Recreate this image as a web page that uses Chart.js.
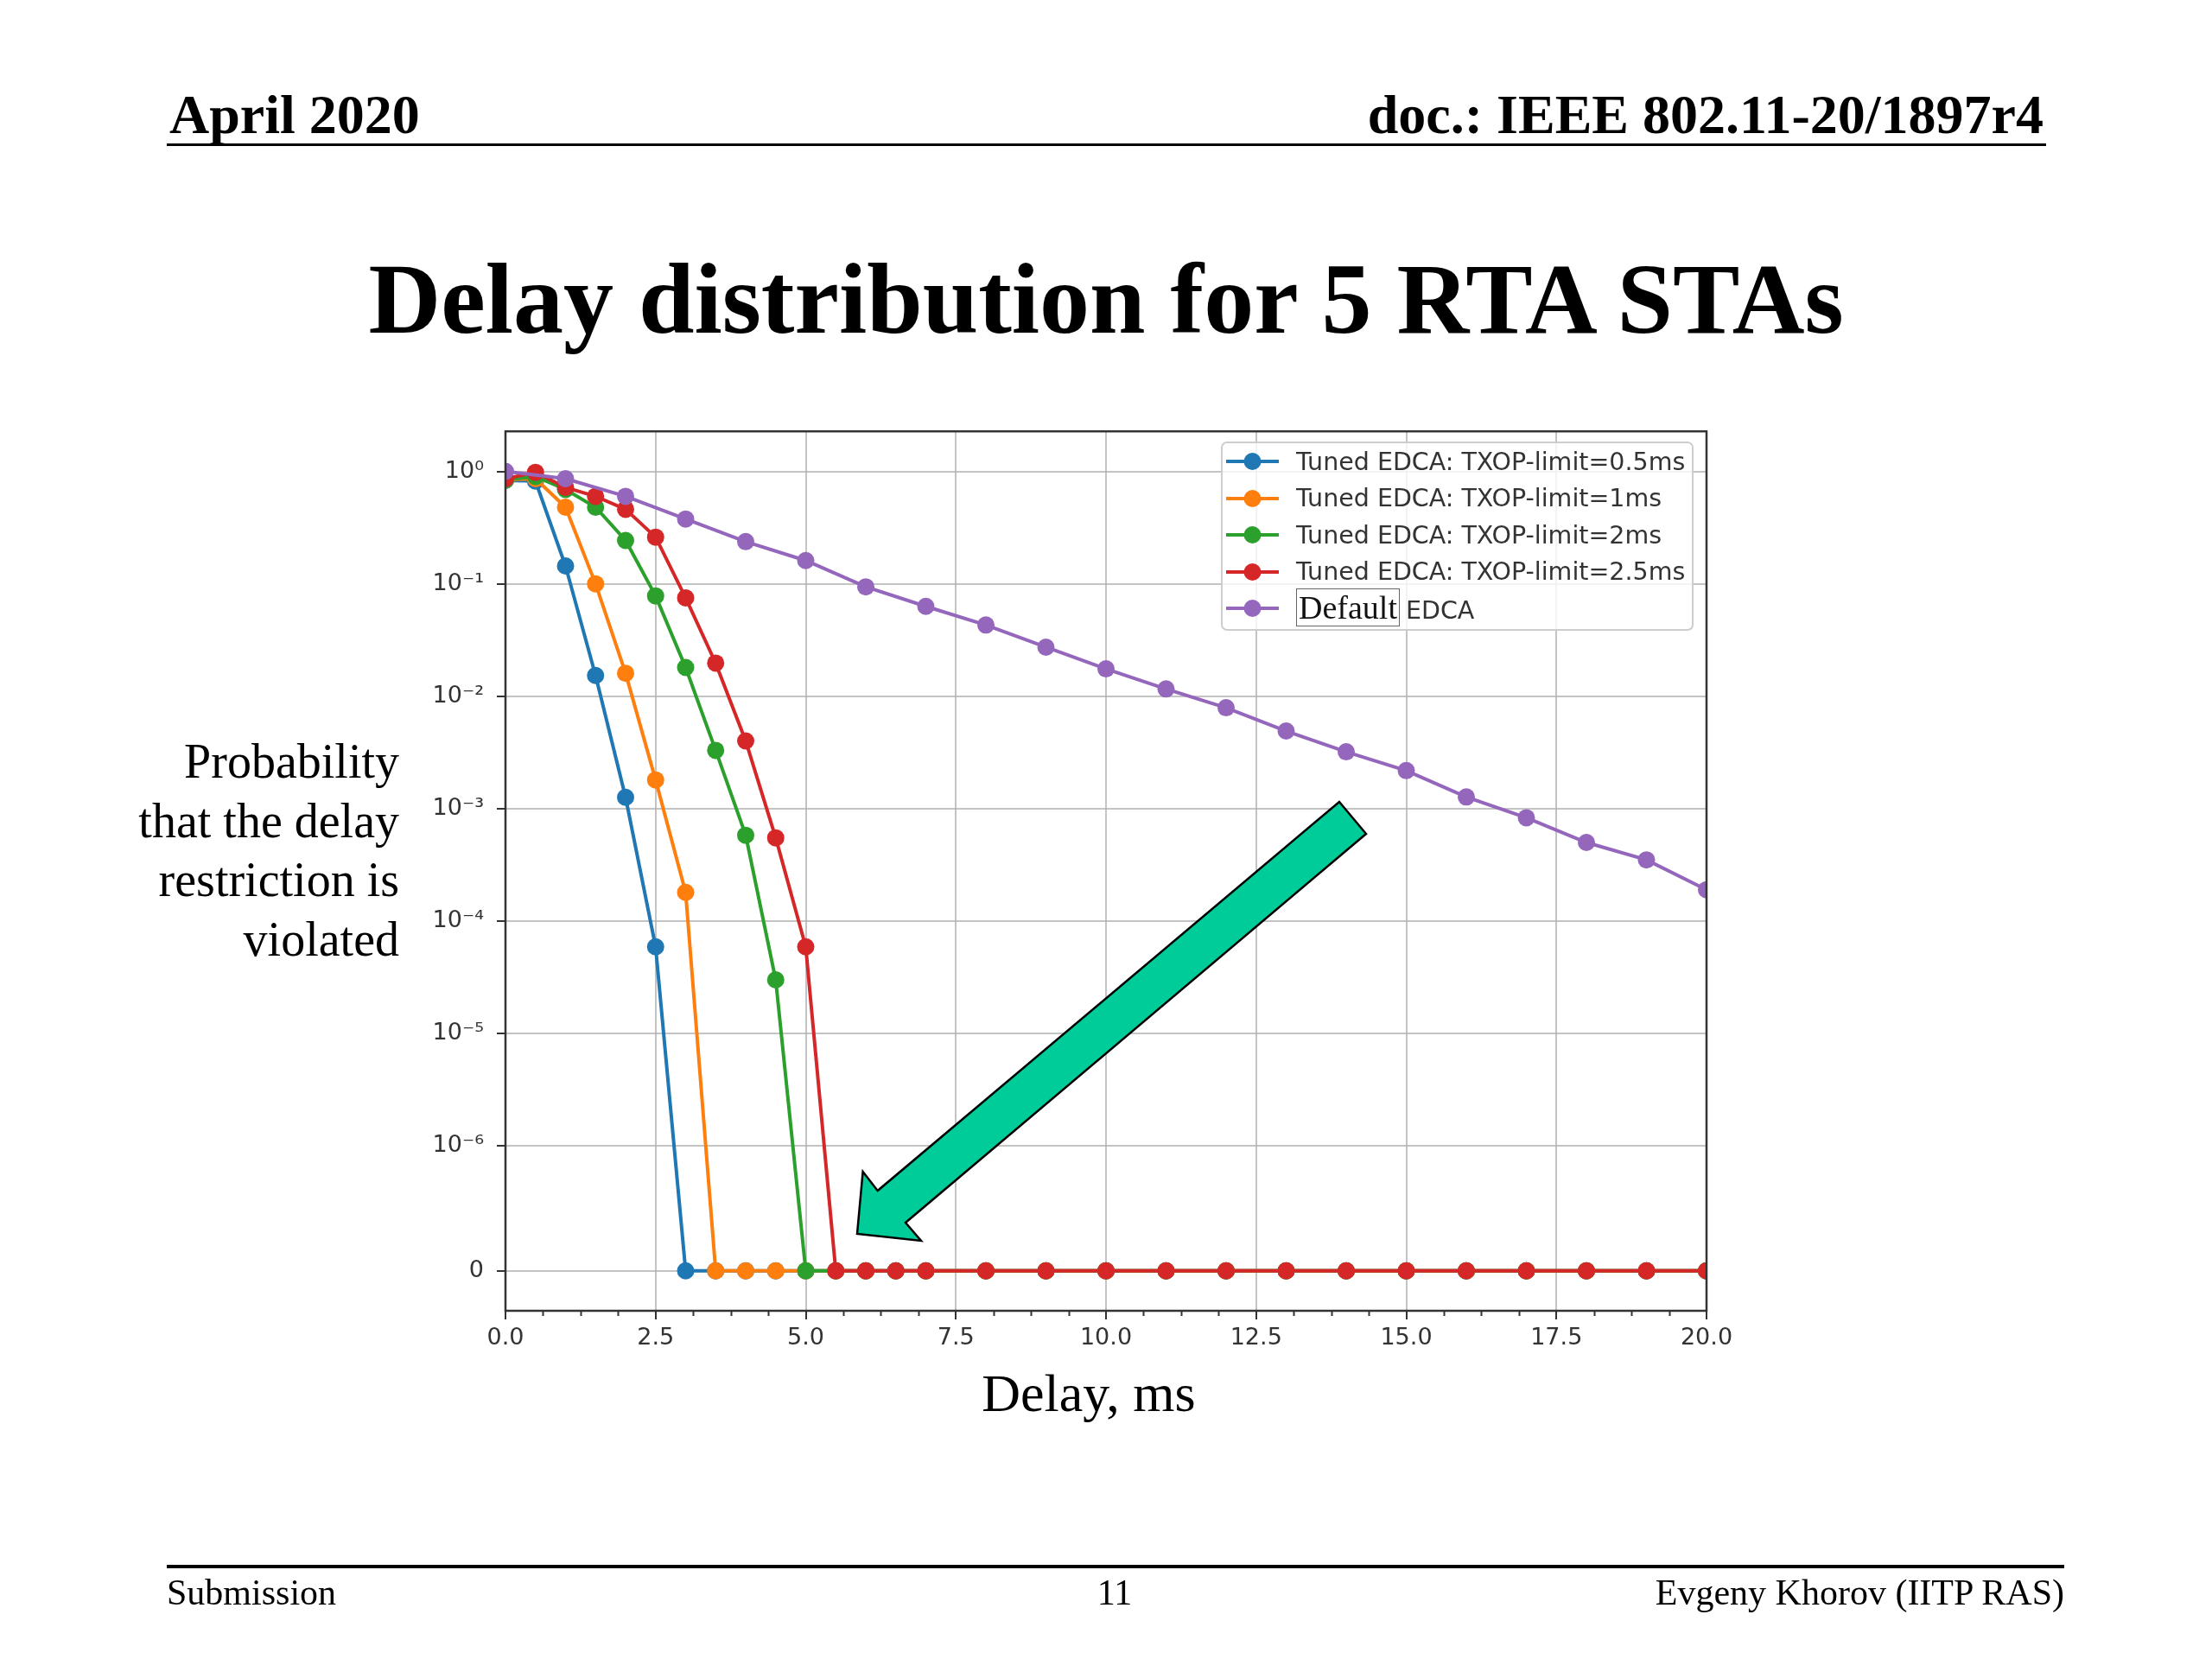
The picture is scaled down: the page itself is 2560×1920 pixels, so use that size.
<!DOCTYPE html>
<html>
<head>
<meta charset="utf-8">
<title>Delay distribution for 5 RTA STAs</title>
<script src="https://cdn.jsdelivr.net/npm/chart.js@4.4.0/dist/chart.umd.min.js"></script>
<style>
  html, body { margin: 0; padding: 0; background: #fff; }
  body {
    width: 2560px; height: 1920px; position: relative; overflow: hidden;
    font-family: "Liberation Serif", "Times New Roman", serif; color: #000;
  }
  .abs { position: absolute; white-space: nowrap; }
  .hdr { top: 101px; font-size: 64px; line-height: 64px; font-weight: bold; }
  .rule { position: absolute; background: #000; }
  .ftr { top: 1822px; font-size: 42px; line-height: 42px; }
  #title { left: 0; width: 2560px; text-align: center; top: 288px; font-size: 116px; line-height: 116px; font-weight: bold; }
  #ylabel { left: 0; width: 462px; text-align: right; top: 847px; font-size: 56px; line-height: 68.5px; white-space: normal; }
  #xlabel { left: 1060px; width: 400px; text-align: center; top: 1581px; font-size: 62px; line-height: 62px; }
  #chartBox { position: absolute; left: 470px; top: 468px; width: 1550px; height: 1109px; }
  #legend {
    position: absolute; left: 1413px; top: 511px; width: 547px; height: 219px;
    box-sizing: border-box; border: 2px solid rgba(200, 200, 200, 0.9); border-radius: 7px;
    background: rgba(255, 255, 255, 0.8); padding-left: 4px;
    font-family: "DejaVu Sans", sans-serif; font-size: 28.5px; color: #333;
  }
  .legendRow { height: 42.5px; display: flex; align-items: center; white-space: nowrap; }
  .legendRow svg { flex: none; margin-right: 20px; }
  .boxed {
    font-family: "Liberation Serif", serif; font-size: 38px; line-height: 35px; color: #111;
    border: 1.5px solid #666; padding: 0 2px; margin-right: 7px;
  }
  #arrow { position: absolute; left: 0; top: 0; }
</style>
</head>
<body>
<div class="abs hdr" style="left:196px">April 2020</div>
<div class="abs hdr" style="right:195px">doc.: IEEE 802.11-20/1897r4</div>
<div class="rule" style="left:193px; top:166px; width:2175px; height:3px"></div>

<div class="abs" id="title">Delay distribution for 5 RTA STAs</div>

<div class="abs" id="ylabel">Probability<br>that the delay<br>restriction is<br>violated</div>

<div id="chartBox"><canvas id="delayChart"></canvas></div>
<div id="legend"></div>

<svg id="arrow" width="2560" height="1920">
  <polygon points="1550,928 1581,965 1048,1415 1066,1436 992,1428 998.6,1356 1015.7,1378"
           fill="#00CC99" stroke="#000" stroke-width="2.5" stroke-linejoin="miter"/>
</svg>

<div class="abs" id="xlabel">Delay, ms</div>

<div class="rule" style="left:193px; top:1811px; width:2196px; height:4px"></div>
<div class="abs ftr" style="left:193px">Submission</div>
<div class="abs ftr" style="left:1190px; width:200px; text-align:center">11</div>
<div class="abs ftr" style="right:171px">Evgeny Khorov (IITP RAS)</div>

<script>
// delay points (ms) for the tuned runs and the default run
const tunedDelay = [0, 0.5, 1, 1.5, 2, 2.5, 3, 3.5, 4, 4.5, 5, 5.5, 6, 6.5, 7,
    8, 9, 10, 11, 12, 13, 14, 15, 16, 17, 18, 19, 20];
const defaultDelay = [0, 1, 2, 3, 4, 5, 6, 7, 8, 9, 10, 11, 12, 13, 14, 15, 16, 17, 18, 19, 20];

// P(delay > d)
const txop05 = [0.83, 0.82, 0.144, 0.0153, 1.26e-3, 5.9e-5, 0, 0, 0, 0, 0, 0, 0, 0, 0,
    0, 0, 0, 0, 0, 0, 0, 0, 0, 0, 0, 0, 0];
const txop1 = [0.84, 0.86, 0.48, 0.10, 0.016, 1.8e-3, 1.8e-4, 0, 0, 0, 0, 0, 0, 0, 0,
    0, 0, 0, 0, 0, 0, 0, 0, 0, 0, 0, 0, 0];
const txop2 = [0.84, 0.9, 0.69, 0.48, 0.243, 0.078, 0.018, 3.3e-3, 5.8e-4, 3.0e-5, 0, 0, 0, 0, 0,
    0, 0, 0, 0, 0, 0, 0, 0, 0, 0, 0, 0, 0];
const txop25 = [0.86, 0.98, 0.72, 0.6, 0.46, 0.26, 0.075, 0.0197, 4.0e-3, 5.5e-4, 5.9e-5, 0, 0, 0, 0,
    0, 0, 0, 0, 0, 0, 0, 0, 0, 0, 0, 0, 0];
const defaultEdca = [1.0, 0.86, 0.6, 0.377, 0.237, 0.161, 0.094, 0.063, 0.043, 0.0273, 0.0175,
    0.0116, 7.9e-3, 4.9e-3, 3.2e-3, 2.18e-3, 1.27e-3, 8.3e-4, 5.0e-4, 3.5e-4, 1.9e-4];

const seriesLabels = [
    'Tuned EDCA: TXOP-limit=0.5ms',
    'Tuned EDCA: TXOP-limit=1ms',
    'Tuned EDCA: TXOP-limit=2ms',
    'Tuned EDCA: TXOP-limit=2.5ms',
    'Default EDCA'
];
const seriesColors = ['#1f77b4', '#ff7f0e', '#2ca02c', '#d62728', '#9467bd'];

const yTickValues = [0, 1e-6, 1e-5, 1e-4, 1e-3, 1e-2, 1e-1, 1];
const yTickLabels = ['0', '10\u207B\u2076', '10\u207B\u2075', '10\u207B\u2074', '10\u207B\u00B3',
    '10\u207B\u00B2', '10\u207B\u00B9', '10\u2070'];

// symmetric log axis, linear below 1e-6 (like matplotlib's symlog)
const LINTHRESH = 1e-6;
const LINSCALE = 1 / (1 - 1 / 10);

function symlog(v) {
    const a = Math.abs(v);
    const t = a <= LINTHRESH ? a / LINTHRESH * LINSCALE : LINSCALE + Math.log10(a / LINTHRESH);
    return v < 0 ? -t : t;
}

function symexp(t) {
    const a = Math.abs(t);
    const v = a <= LINSCALE ? a / LINSCALE * LINTHRESH : LINTHRESH * Math.pow(10, a - LINSCALE);
    return t < 0 ? -v : v;
}

class SymlogScale extends Chart.Scale {
    determineDataLimits() {
        this.min = this.options.min;
        this.max = this.options.max;
    }
    buildTicks() {
        return yTickValues.map(value => ({ value }));
    }
    getLabelForValue(value) {
        return String(value);
    }
    configure() {
        super.configure();
        this._tStart = symlog(this.min);
        this._tRange = symlog(this.max) - this._tStart;
    }
    getPixelForValue(value) {
        return this.getPixelForDecimal((symlog(value) - this._tStart) / this._tRange);
    }
    getValueForPixel(pixel) {
        return symexp(this._tStart + this.getDecimalForPixel(pixel) * this._tRange);
    }
}
SymlogScale.id = 'symlog';
SymlogScale.defaults = {};
Chart.register(SymlogScale);

const minorTicks = {
    id: 'minorTicks',
    afterDraw(chart) {
        const xs = chart.scales.x;
        const area = chart.chartArea;
        const ctx = chart.ctx;
        ctx.save();
        ctx.strokeStyle = '#333';
        ctx.lineWidth = 2;
        ctx.beginPath();
        for (let v = 0.625; v < 20; v += 0.625) {
            if (Math.abs(v / 2.5 - Math.round(v / 2.5)) < 1e-6) continue;
            const px = Math.round(xs.getPixelForValue(v)) + 0.5;
            ctx.moveTo(px, area.bottom);
            ctx.lineTo(px, area.bottom + 6);
        }
        ctx.stroke();
        ctx.restore();
    }
};

const frame = {
    id: 'frame',
    afterDatasetsDraw(chart) {
        const a = chart.chartArea;
        const ctx = chart.ctx;
        ctx.save();
        ctx.strokeStyle = '#333';
        ctx.lineWidth = 2.5;
        ctx.strokeRect(a.left, a.top, a.right - a.left, a.bottom - a.top);
        ctx.restore();
    }
};

function makeSet(i, xs, ys, order) {
    return {
        label: seriesLabels[i],
        data: xs.map((x, k) => ({ x: x, y: ys[k] })),
        borderColor: seriesColors[i],
        backgroundColor: seriesColors[i],
        borderWidth: 4,
        pointRadius: 10,
        pointHoverRadius: 10,
        pointBorderWidth: 0,
        pointBackgroundColor: seriesColors[i],
        tension: 0,
        clip: 0,
        order: order
    };
}

Chart.defaults.font.family = '"DejaVu Sans", sans-serif';

const chart = new Chart(document.getElementById('delayChart'), {
    type: 'line',
    data: {
        datasets: [
            makeSet(0, tunedDelay, txop05, 5),
            makeSet(1, tunedDelay, txop1, 4),
            makeSet(2, tunedDelay, txop2, 3),
            makeSet(3, tunedDelay, txop25, 2),
            makeSet(4, defaultDelay, defaultEdca, 1)
        ]
    },
    options: {
        responsive: true,
        maintainAspectRatio: false,
        animation: false,
        layout: { padding: { top: 20, right: 45, left: 0, bottom: 0 } },
        plugins: {
            legend: { display: false },
            tooltip: { enabled: false }
        },
        scales: {
            x: {
                type: 'linear',
                min: 0,
                max: 20,
                border: { display: false },
                grid: { color: 'rgba(176,176,176,0.75)', lineWidth: 2, tickLength: 10, tickColor: '#333', tickWidth: 2 },
                ticks: {
                    stepSize: 2.5,
                    autoSkip: false,
                    maxRotation: 0,
                    padding: 6,
                    color: '#333',
                    font: { size: 27 },
                    callback: v => Number(v).toFixed(1)
                },
                afterFit: scale => { scale.height = 60; }
            },
            y: {
                type: 'symlog',
                min: -3.2e-7,
                max: 2.27,
                border: { display: false },
                grid: { color: 'rgba(176,176,176,0.75)', lineWidth: 2, tickLength: 10, tickColor: '#333', tickWidth: 2 },
                ticks: {
                    padding: 15,
                    color: '#333',
                    font: { size: 27 },
                    callback: (v, i) => yTickLabels[i]
                },
                afterFit: scale => { scale.width = 115; }
            }
        }
    },
    plugins: [minorTicks, frame]
});

// legend inside the axes, built from the datasets
const legendBox = document.getElementById('legend');
chart.data.datasets.forEach(ds => {
    const row = document.createElement('div');
    row.className = 'legendRow';
    const c = ds.borderColor;
    row.innerHTML = '<svg width="61" height="24"><line x1="0" y1="12" x2="61" y2="12" stroke="' + c +
        '" stroke-width="4"/><circle cx="30.5" cy="12" r="10" fill="' + c + '"/></svg>';
    const text = document.createElement('span');
    if (ds.label.indexOf('Default') === 0) {
        text.innerHTML = '<span class="boxed">Default</span>' + ds.label.slice(8);
    } else {
        text.textContent = ds.label;
    }
    row.appendChild(text);
    legendBox.appendChild(row);
});
</script>
</body>
</html>
